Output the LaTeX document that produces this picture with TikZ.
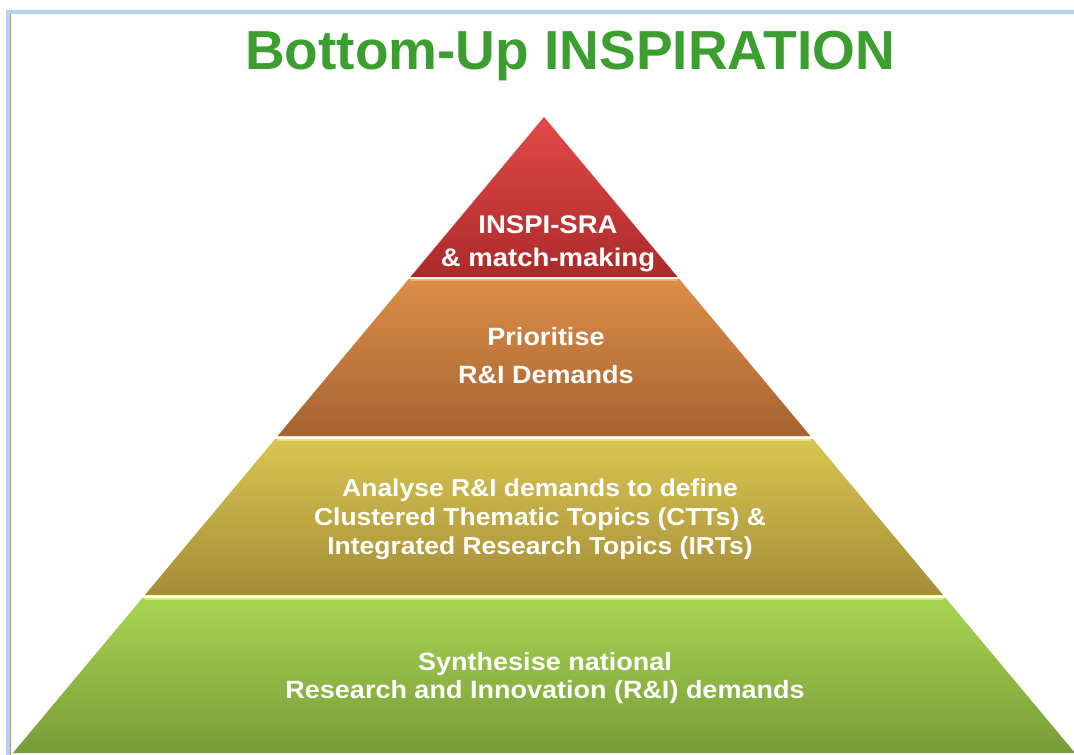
\documentclass[tikz,border=0pt]{standalone}
\usepackage{fontspec}
\setsansfont{Liberation Sans}
\newfontfamily\widesans{Liberation Sans}[FakeStretch=1.08]
\usetikzlibrary{calc}

\definecolor{titlegreen}{HTML}{3C9E2E}
\definecolor{frameblue}{HTML}{B4D0F4}
\definecolor{framebrown}{HTML}{C89858}

\tikzset{
  level/.style={draw=none},
  leveltext/.style={text=white, align=center, inner sep=0pt},
  highlight/.style={line width=2pt, line cap=round}
}

\begin{document}
\begin{tikzpicture}[x=1pt, y=-1pt]
				\useasboundingbox (0,0) rectangle (1074,755);
				\fill[white] (0,0) rectangle (1074,755);
				% frame
				\draw[frameblue, line width=4pt] (8,755) -- (8,12) -- (1074,12);
				\draw[framebrown, line width=0.8pt] (10.6,755) -- (10.6,14);
				
				% title
				\node[text=titlegreen, font=\sffamily\bfseries\fontsize{55}{60}\selectfont, inner sep=0pt] (title) at (570,56) {Bottom-Up INSPIRATION};
				
				\coordinate (apex) at (544,117);
				\coordinate (a1) at (410.4,277);  \coordinate (a2) at (677.6,277);
				\coordinate (b1) at (408.7,279);  \coordinate (b2) at (679.3,279);
				\coordinate (c1) at (277.6,436);  \coordinate (c2) at (810.4,436);
				\coordinate (d1) at (275.1,439);  \coordinate (d2) at (812.9,439);
				\coordinate (e1) at (144.9,595);  \coordinate (e2) at (943.1,595);
				\coordinate (f1) at (142.4,598);  \coordinate (f2) at (945.6,598);
				\coordinate (g1) at (12.9,753);   \coordinate (g2) at (1075.1,753);
				
				% layers, top to bottom
				\shade[level, top color={rgb,255:red,226;green,74;blue,70}, bottom color={rgb,255:red,172;green,42;blue,42}] (apex) -- (a2) -- (a1) -- cycle;
				\shade[level, top color={rgb,255:red,220;green,142;blue,72}, bottom color={rgb,255:red,166;green,98;blue,48}] (b1) -- (b2) -- (c2) -- (c1) -- cycle;
				\shade[level, top color={rgb,255:red,216;green,198;blue,80}, bottom color={rgb,255:red,164;green,140;blue,56}] (d1) -- (d2) -- (e2) -- (e1) -- cycle;
				\shade[level, top color={rgb,255:red,168;green,212;blue,82}, bottom color={rgb,255:red,120;green,156;blue,56}] (f1) -- (f2) -- (g2) -- (g1) -- cycle;
				
				\draw[highlight, color={rgb,255:red,236;green,178;blue,110}] ($(b1)+(3,1)$) -- ($(b2)+(-3,1)$);
				\draw[highlight, color={rgb,255:red,238;green,226;blue,120}] ($(d1)+(3,1)$) -- ($(d2)+(-3,1)$);
				\draw[highlight, color={rgb,255:red,206;green,240;blue,120}] ($(f1)+(3,1)$) -- ($(f2)+(-3,1)$);
				
				% labels
				\node[leveltext, font=\widesans\bfseries\fontsize{25.5}{33}\selectfont] (sra) at (548,244) {INSPI-SRA\\\& match-making};
				\node[leveltext, font=\widesans\bfseries\fontsize{25}{38}\selectfont] (prio) at (546,356) {Prioritise\\R\&I Demands};
				\node[leveltext, font=\widesans\bfseries\fontsize{24.5}{29}\selectfont] (ctt) at (540,519) {Analyse R\&I demands to define\\Clustered Thematic Topics (CTTs) \&\\Integrated Research Topics (IRTs)};
				\node[leveltext, font=\widesans\bfseries\fontsize{25}{28}\selectfont] (synth) at (545,678) {Synthesise national\\Research and Innovation (R\&I) demands};
\end{tikzpicture}
\end{document}
